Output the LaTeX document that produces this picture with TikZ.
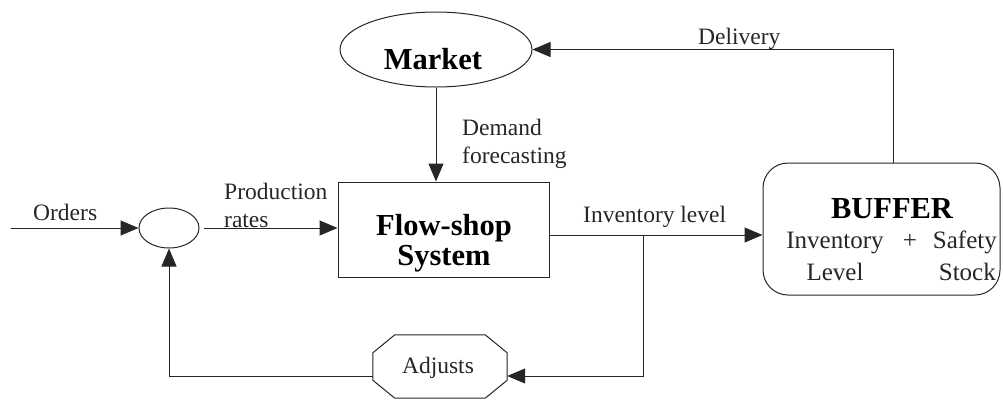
\documentclass[tikz,border=0pt]{standalone}
\usepackage{fontspec}
\setmainfont{Liberation Serif}
\usetikzlibrary{arrows.meta,shapes.geometric}
\tikzset{
 ln/.style={draw=black!85, line width=1pt},
 arr/.style={ln, -{Triangle[length=18pt,width=15pt]}},
 lbl/.style={inner sep=0pt, font=\fontsize{23.5}{26}\selectfont, text=black!85},
 big/.style={inner sep=0pt, font=\fontsize{30.5}{32}\selectfont\bfseries},
 buf/.style={inner sep=0pt, font=\fontsize{25}{28}\selectfont, text=black!85},
}
\begin{document}
\begin{tikzpicture}[x=1pt,y=-1pt]
\useasboundingbox (0,0) rectangle (1003,400);
% shapes
\node[ln, ellipse, minimum width=192pt, minimum height=75pt, inner sep=0pt] (mkt) at (436,49.5) {};
\node[big, anchor=base] (mktt) at (433,69) {Market};
\node[ln, ellipse, minimum width=60pt, minimum height=40pt, inner sep=0pt] (circ) at (169,228) {};
\node[ln, rectangle, minimum width=211pt, minimum height=95pt, inner sep=0pt] (flow) at (443.5,229.5) {};
\node[big, anchor=base] (fs1) at (444,235) {Flow-shop};
\node[big, anchor=base] (fs2) at (444,265) {System};
\node[ln, rounded corners=25pt, minimum width=237pt, minimum height=132pt, inner sep=0pt] (bufb) at (881.5,229) {};
\node[big, anchor=base] (buft) at (892,218) {BUFFER};
\node[buf, anchor=base] (b1) at (835,248) {Inventory};
\node[buf, anchor=base] (b2) at (910,248) {+};
\node[buf, anchor=base east] (b3) at (997,248) {Safety};
\node[buf, anchor=base] (b4) at (835,280) {Level};
\node[buf, anchor=base east] (b5) at (996,280) {Stock};
\node[minimum width=134pt, minimum height=63pt, inner sep=0pt] (adj) at (440,366.5) {};
\draw[ln] ([xshift=22pt]adj.north west) -- ([xshift=-22pt]adj.north east)
  -- ([yshift=-18pt]adj.north east) -- ([yshift=18pt]adj.south east)
  -- ([xshift=-22pt]adj.south east) -- ([xshift=22pt]adj.south west)
  -- ([yshift=18pt]adj.south west) -- ([yshift=-18pt]adj.north west) -- cycle;
\node[lbl, anchor=base] (adjt) at (438,373) {Adjusts};
% coordinates
\coordinate (ordin) at (11,228);
\coordinate (br) at (643,235);
% connectors
\draw[arr] (ordin) -- (circ.west);
\draw[arr, shorten <=4pt] (circ.east) -- (circ.east -| flow.west);
\draw[arr] (mkt.south) -- (mkt.south |- flow.north);
\draw[arr] ([yshift=-5.5pt]flow.east) -- (br -| bufb.west);
\draw[arr] (br) |- ([yshift=-9.5pt]adj.east);
\draw[arr] ([yshift=-9.5pt]adj.west) -| (circ.south);
\draw[arr] ([xshift=11.5pt]bufb.north) |- (mkt.east);
% labels
\node[lbl, anchor=base west] (lord) at (33,220) {Orders};
\node[lbl, anchor=base west] (lprod) at (224,199) {Production};
\node[lbl, anchor=base west] (lrates) at (224,227) {rates};
\node[lbl, anchor=base west] (ldem) at (462,135) {Demand};
\node[lbl, anchor=base west] (lfore) at (462,163) {forecasting};
\node[lbl, anchor=base west] (linv) at (583,222) {Inventory level};
\node[lbl, anchor=base west] (ldel) at (698,44) {Delivery};
\end{tikzpicture}
\end{document}
